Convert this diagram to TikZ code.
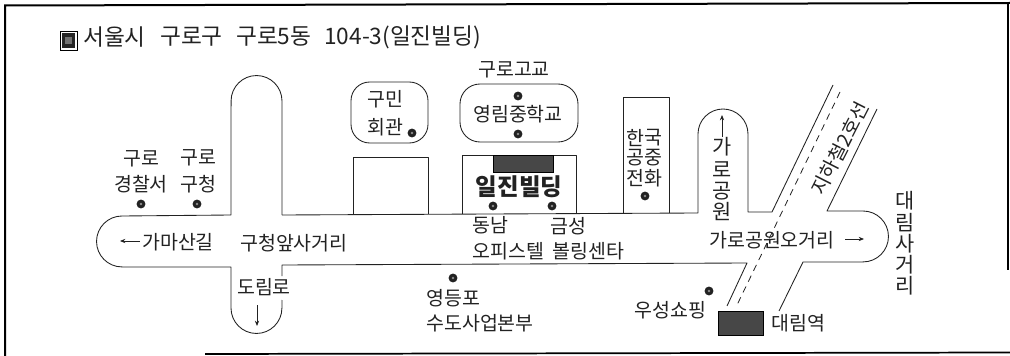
\documentclass[tikz,border=0pt]{standalone}
\usepackage{fontspec}
\setmainfont{Noto Sans CJK KR}
\usetikzlibrary{arrows.meta}
\definecolor{ink}{HTML}{222222}
\tikzset{
  road/.style={draw=ink,line width=0.65pt,line join=round},
  frameline/.style={draw=black,line width=1.5pt},
  lab/.style={inner sep=0pt,anchor=west,text=ink,font=\fontsize{14.6}{16}\selectfont},
  cen/.style={inner sep=0pt,anchor=center,text=ink,font=\fontsize{14.6}{16}\selectfont},
  vert/.style={inner sep=0pt,anchor=center,text=ink,font=\fontsize{15.6}{17}\selectfont},
  ttl/.style={inner sep=0pt,anchor=west,text=ink,font=\fontsize{17}{19}\selectfont},
  dot/.style={circle,fill=ink,draw=ink,inner sep=0pt,minimum size=6.2pt},
  darr/.style={draw=ink,line width=0.6pt,-{Stealth[length=4pt,width=3.2pt]}},
  dark/.style={fill=black!72,draw=black,line width=0.7pt}
}
\begin{document}
\begin{tikzpicture}[x=0.75pt,y=-0.75pt]
\useasboundingbox (0,0) rectangle (1010,356);
% frame
\draw[frameline] (5,356) -- (5,5.5) -- (1010,3);
\draw[frameline,line width=1.3pt] (205,354) -- (1010,352.5);
\draw[draw=black,line width=0.8pt] (1008,3) -- (1008,270);
% title
\draw[draw=black,line width=0.7pt] (60,31) rectangle (77,50);
\fill[black!85] (62,33) rectangle (75,48);
\fill[black!55] (65,37) rectangle (72,44);
\node[ttl] (t1) at (83,37) {서울시};
\node[ttl] (t2) at (160,37) {구로구};
\node[ttl] (t3) at (236,37) {구로5동};
\node[ttl] (t4) at (324,37) {104-3(일진빌딩)};
% roads
\path[road] (282,215) -- (282,101) arc[start angle=0,end angle=180,radius=19.1pt]
  -- (231,215) -- (122,216) arc[start angle=90,end angle=270,radius=19.1pt]
  -- (231,267) -- (231,308) arc[start angle=180,end angle=360,radius=19.1pt]
  -- (282,300);
\path[road] (282,276) -- (282,265) -- (747,263) -- (727,306);
\path[road] (282,215) -- (698,213) -- (698,134) arc[start angle=180,end angle=0,radius=18.75pt]
  -- (748,212) -- (772,212) -- (833,85);
\path[road] (877,109) -- (827,211) -- (863,211) arc[start angle=90,end angle=-90,radius=19.1pt]
  -- (803,262) -- (779,311);
\draw[draw=ink,line width=0.6pt,dash pattern=on 5pt off 4pt] (840,92) -- (737,305);
% buildings
\path[road] (353,214.5) -- (353,157) -- (428,157) -- (428,214);
\path[road] (462,214) -- (462,155) -- (576,155) -- (576,213.5);
\path[road] (623,213) -- (623,97) -- (669,97) -- (669,213);
\path[road,rounded corners=14pt] (351,82) rectangle (428,143);
\path[road,rounded corners=15pt] (460,84) rectangle (578,142);
\path[dark] (493,155) rectangle (553,172);
\path[dark] (718,311) rectangle (763,335);
% dots
\foreach \n/\x/\y in {d1/141/204,d2/197/204,d3/412/133,d4/518/96,d5/518/134,d6/493/206,d7/552/206,d8/645/196,d9/453/278,d10/709/291}{
  \node[dot] (\n) at (\x,\y) {};
  \fill[black!45] (\x,\y) circle (1pt);
}
% labels
\node[cen] (a1) at (141,159) {구로};
\node[cen] (a2) at (141,184) {경찰서};
\node[cen] (a3) at (198,158) {구로};
\node[cen] (a4) at (198,184) {구청};
\node[cen] (b1) at (385,99) {구민};
\node[cen] (b2) at (385,127) {회관};
\node[cen] (c1) at (514,70) {구로고교};
\node[cen] (c2) at (518,114) {영림중학교};
\node[cen,font=\fontsize{17.6}{19}\selectfont\bfseries] (e1) at (519,187) {일진빌딩};
\node[cen] (f1) at (635,138) {한};
\node[cen] (f2) at (653,138) {국};
\node[cen] (f3) at (635,158) {공};
\node[cen] (f4) at (653,158) {중};
\node[cen] (f5) at (635,178) {전};
\node[cen] (f6) at (653,178) {화};
\node[vert] (g1) at (722,147) {가};
\node[vert] (g2) at (722,170) {로};
\node[vert] (g3) at (722,191) {공};
\node[vert] (g4) at (722,212) {원};
\coordinate (ga) at (722,137); \coordinate (gb) at (722,115);
\draw[darr] (ga) -- (gb);
\node[cen,rotate=63,font=\fontsize{14.6}{16}\selectfont] (h1) at (840,148) {지하철2호선};
\node[vert] (i1) at (905,201) {대};
\node[vert] (i2) at (905,223) {림};
\node[vert] (i3) at (905,244) {사};
\node[vert] (i4) at (905,265) {거};
\node[vert] (i5) at (905,286) {리};
\node[lab] (j1) at (142,242) {가마산길};
\coordinate (ja) at (140,241); \coordinate (jb) at (120,241);
\draw[darr] (ja) -- (jb);
\node[lab] (j2) at (240,243) {구청앞사거리};
\node[cen] (k1) at (264,287) {도림로};
\coordinate (ka) at (257,305); \coordinate (kb) at (257,326);
\draw[darr] (ka) -- (kb);
\node[lab] (l1) at (472,225) {동남};
\node[lab] (l2) at (472,251) {오피스텔};
\node[lab] (l3) at (550,226) {금성};
\node[lab] (l4) at (552,251) {볼링센타};
\node[lab] (m1) at (709,240) {가로공원오거리};
\coordinate (ma) at (845,239); \coordinate (mb) at (864,239);
\draw[darr] (ma) -- (mb);
\node[lab] (n1) at (426,298) {영등포};
\node[lab] (n2) at (426,323) {수도사업본부};
\node[lab] (o1) at (634,310) {우성쇼핑};
\node[lab] (p1) at (771,323) {대림역};
\end{tikzpicture}
\end{document}
